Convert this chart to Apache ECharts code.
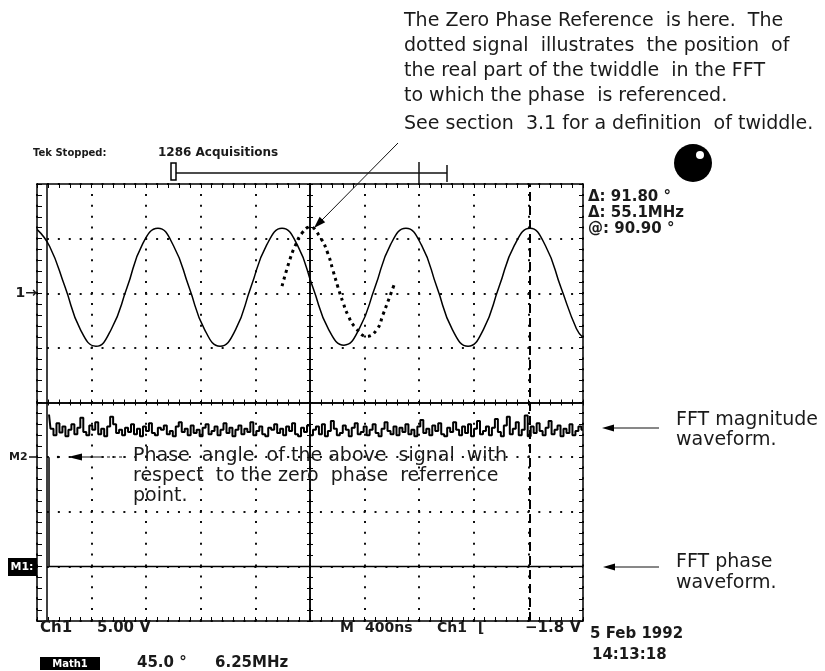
<!DOCTYPE html>
<html><head><meta charset="utf-8">
<script src="https://cdn.jsdelivr.net/npm/echarts@6/dist/echarts.min.js"></script>
<style>html,body{margin:0;padding:0;background:#fff}#c{width:825px;height:671px}</style>
</head><body><div id="c"></div>
<script>
// ---- data (time in ns, amplitude in graticule divisions) ----
const timeMinNs = -2000, timeMaxNs = 2000, timeDivNs = 400;
const vertMinDiv = -4, vertMaxDiv = 4, vertStepDiv = 1;

const ch1TimeNs = [-2000,-1908,-1795,-1681,-1568,-1454,-1341,-1227,-1114,-1000,-886,-773,-659,-546,-432,-318,-205,-92,22,136,249,363,476,590,703,817,930,1044,1158,1271,1385,1498,1612,1725,1839,1952,2000];
const ch1Div    = [3.17,2.86,2.12,1.33,1.03,1.35,2.10,2.90,3.19,2.87,2.11,1.34,1.03,1.33,2.12,2.88,3.19,2.88,2.10,1.34,1.05,1.36,2.11,2.89,3.19,2.88,2.11,1.33,1.03,1.34,2.12,2.88,3.19,2.87,2.10,1.35,1.19];

const twiddleTimeNs = [-205,-147,-110,-59,0,73,132,168,205,242,278,330,418,491,535,571,623];
const twiddleDiv    = [2.13,2.62,2.86,3.10,3.21,3.03,2.72,2.42,2.11,1.83,1.60,1.38,1.21,1.34,1.61,1.85,2.20];

const fftMagStartNs = -1912, fftMagStepNs = 21.85;
const fftMagDiv = [
 -0.22,-0.48,-0.60,-0.38,-0.55,-0.44,-0.62,-0.50,-0.40,-0.58,-0.46,-0.28,-0.54,-0.60,-0.42,-0.50,-0.36,-0.58,-0.48,-0.62,-0.44,-0.26,-0.40,-0.56,-0.50,-0.60,-0.46,-0.54,-0.40,-0.58,
 -0.48,-0.62,-0.44,-0.52,-0.38,-0.56,-0.60,-0.46,-0.50,-0.42,-0.58,-0.52,-0.62,-0.44,-0.36,-0.54,-0.48,-0.60,-0.42,-0.56,-0.50,-0.62,-0.46,-0.40,-0.58,-0.52,-0.44,-0.60,-0.50,-0.38,
 -0.56,-0.46,-0.62,-0.50,-0.42,-0.58,-0.48,-0.54,-0.36,-0.60,-0.52,-0.44,-0.58,-0.62,-0.46,-0.50,-0.40,-0.56,-0.48,-0.60,-0.44,-0.52,-0.38,-0.58,-0.62,-0.46,-0.54,-0.42,-0.60,-0.50,
 -0.44,-0.58,-0.40,-0.62,-0.52,-0.34,-0.48,-0.60,-0.56,-0.42,-0.50,-0.62,-0.46,-0.38,-0.58,-0.54,-0.44,-0.60,-0.50,-0.40,-0.56,-0.62,-0.48,-0.36,-0.52,-0.58,-0.44,-0.60,-0.46,-0.54,
 -0.40,-0.58,-0.50,-0.62,-0.44,-0.32,-0.56,-0.48,-0.60,-0.42,-0.52,-0.38,-0.58,-0.62,-0.46,-0.54,-0.36,-0.50,-0.60,-0.44,-0.56,-0.40,-0.62,-0.48,-0.34,-0.58,-0.52,-0.44,-0.60,-0.46,
 -0.30,-0.54,-0.62,-0.42,-0.26,-0.58,-0.48,-0.36,-0.60,-0.50,-0.24,-0.62,-0.44,-0.56,-0.38,-0.52,-0.60,-0.46,-0.34,-0.58,-0.50,-0.42,-0.62,-0.48,-0.56,-0.40,-0.60,-0.52,-0.44,-0.50];

const fftPhaseTimeNs = [-1912,-1912,2000];
const fftPhaseDiv    = [-1.0,-3.0,-3.0];

const cursorSolidNs = -1930;
const cursorDashedNs = 1612;

const topNote = ['The Zero Phase Reference  is here.  The','dotted signal  illustrates  the position  of','the real part of the twiddle  in the FFT','to which the phase  is referenced.'];
const topNote2 = 'See section  3.1 for a definition  of twiddle.';
const phaseNote = ['Phase  angle  of the above  signal  with','respect  to the zero  phase  referrence','point.'];
const magNote = ['FFT magnitude','waveform.'];
const phNote = ['FFT phase','waveform.'];
const readouts = ['\u0394: 91.80 \u00b0','\u0394: 55.1MHz','@: 90.90 \u00b0'];

// ---- chart ----
const K = '#000';
const chart = echarts.init(document.getElementById('c'));
const tick = {color:K, width:1};
function xAx(pos, onZero, inside, len, split){
  return {type:'value', min:timeMinNs, max:timeMaxNs, interval:timeDivNs, position:pos,
    axisLine:{show:true, onZero:onZero, onZeroAxisIndex:0, lineStyle:{color:K,width:1.5}},
    axisTick:{show:true, inside:inside, length:len, lineStyle:tick},
    minorTick:{show:true, splitNumber:5, length:len, lineStyle:tick},
    axisLabel:{show:false},
    splitLine:{show:!!split, lineStyle:{color:'#111', width:2, type:[2,8.9], dashOffset:1}},
    minorSplitLine:{show:false}};
}
function yAx(pos, onZero, inside, len, split){
  return {type:'value', min:vertMinDiv, max:vertMaxDiv, interval:vertStepDiv, position:pos,
    axisLine:{show:true, onZero:onZero, onZeroAxisIndex:0, lineStyle:{color:K,width:1.5}},
    axisTick:{show:true, inside:inside, length:len, lineStyle:tick},
    minorTick:{show:true, splitNumber:5, length:len, lineStyle:tick},
    axisLabel:{show:false},
    splitLine:{show:!!split, lineStyle:{color:'#111', width:2, type:[2,8.92], dashOffset:1}},
    minorSplitLine:{show:false}};
}
const F = '19px DejaVu Sans';
const B = 'bold 15px DejaVu Sans';
const els = [];
function txt(x,y,t,font,opt){ els.push({type:'text', x:x, y:y, z:100, style:{text:t, font:font, fill:(opt&&opt.fill)||'#1a1a1a', align:(opt&&opt.align)||'left', verticalAlign:'middle'}}); }
function ln(x1,y1,x2,y2,w,dash){ els.push({type:'line', z:100, shape:{x1,y1,x2,y2}, style:{stroke:'#111', lineWidth:w||1, lineDash:dash||null}}); }
function poly(pts){ els.push({type:'polygon', z:100, shape:{points:pts}, style:{fill:'#000'}}); }

topNote.forEach((t,i)=>txt(404, 21+i*25, t, F));
txt(404, 124, topNote2, F);
phaseNote.forEach((t,i)=>txt(133, 456+i*20, t, F));
magNote.forEach((t,i)=>txt(676, 420+i*20, t, F));
phNote.forEach((t,i)=>txt(676, 562+i*21, t, F));
readouts.forEach((t,i)=>txt(588, 197+i*16, t, B));

// annotation arrows
ln(398,143,322,220,1);
poly([[314,228],[325.2,222.3],[319.6,216.7]]);
ln(612,428,659,428,1); poly([[602,428],[614,424.5],[614,431.5]]);
ln(612,567,659,567,1); poly([[603,567],[615,563.5],[615,570.5]]);
ln(80,457,101,457,1); ln(101,457,126,457,1,[3,3]); poly([[68,457],[82,453.5],[82,460.5]]);
els.push({type:'circle', z:100, shape:{cx:58,cy:457,r:1.2}, style:{fill:'#000'}});

// scope header
txt(33,153,'Tek Stopped:','bold 10px DejaVu Sans');
txt(158,153,'1286 Acquisitions','bold 12px DejaVu Sans');
ln(172,173,447,173,1.5);
els.push({type:'rect', z:100, shape:{x:171,y:163,width:5,height:17}, style:{fill:'#fff', stroke:'#000', lineWidth:1.5}});
ln(447,165,447,182,1.5);
ln(419,162,419,184,1.5);
els.push({type:'circle', z:100, shape:{cx:693,cy:163,r:19}, style:{fill:'#000'}});
els.push({type:'circle', z:101, shape:{cx:700,cy:155,r:4}, style:{fill:'#fff'}});

// channel markers
txt(37,293,'1\u2192','bold 14px DejaVu Sans',{align:'right'});
txt(9,457,'M2','bold 11px DejaVu Sans');
ln(29,457,37,457,1.5);
els.push({type:'rect', z:100, shape:{x:8,y:558,width:29,height:18}, style:{fill:'#000'}});
txt(22,567,'M1:','bold 11px DejaVu Sans',{fill:'#fff',align:'center'});

// bottom readouts
txt(40,628,'Ch1',B); txt(97,628,'5.00 V',B);
txt(340,628,'M','bold 14px DejaVu Sans'); txt(365,628,'400ns','bold 14px DejaVu Sans');
txt(437,628,'Ch1','bold 14px DejaVu Sans'); txt(478,628,'\u230A','bold 14px DejaVu Sans');
txt(581,628,'\u22121.8 V',B,{align:'right'});
txt(590,634,'5 Feb 1992',B); txt(592,655,'14:13:18',B);
els.push({type:'rect', z:100, shape:{x:40,y:657,width:60,height:13}, style:{fill:'#000'}});
txt(70,664,'Math1','bold 10px DejaVu Sans',{fill:'#fff',align:'center'});
txt(137,663,'45.0 \u00b0',B); txt(215,663,'6.25MHz',B);

chart.setOption({
  animation:false,
  backgroundColor:'#fff',
  grid:{left:37, top:184, width:546, height:437, outerBoundsMode:'none', containLabel:false},
  xAxis:[ xAx('bottom',false,true,4,true), xAx('top',false,true,4,false), xAx('bottom',true,true,3,false), xAx('bottom',true,false,3,false) ],
  yAxis:[ yAx('left',false,true,5,true), yAx('right',false,true,4,false), yAx('left',true,true,3,false), yAx('left',true,false,3,false) ],
  series:[
    {type:'line', name:'Ch1', data:ch1TimeNs.map((t,i)=>[t,ch1Div[i]]), smooth:0.5, showSymbol:false, lineStyle:{color:K,width:1.5}},
    {type:'line', name:'Twiddle', data:twiddleTimeNs.map((t,i)=>[t,twiddleDiv[i]]), smooth:0.5, showSymbol:false, lineStyle:{color:K,width:3,type:[3,4]}},
    {type:'line', name:'FFT magnitude', data:fftMagDiv.map((v,i)=>[fftMagStartNs+i*fftMagStepNs, v]), step:'middle', showSymbol:false, lineStyle:{color:K,width:2}},
    {type:'line', name:'FFT phase', data:fftPhaseTimeNs.map((t,i)=>[t,fftPhaseDiv[i]]), showSymbol:false, lineStyle:{color:K,width:1.5},
      markLine:{symbol:'none', silent:true, label:{show:false}, data:[
        {xAxis:cursorSolidNs, lineStyle:{type:'solid',width:1.5,color:K}},
        {xAxis:cursorDashedNs, lineStyle:{type:[9,5],width:2,color:K}}]}}
  ],
  graphic:{elements:els}
});
</script></body></html>
